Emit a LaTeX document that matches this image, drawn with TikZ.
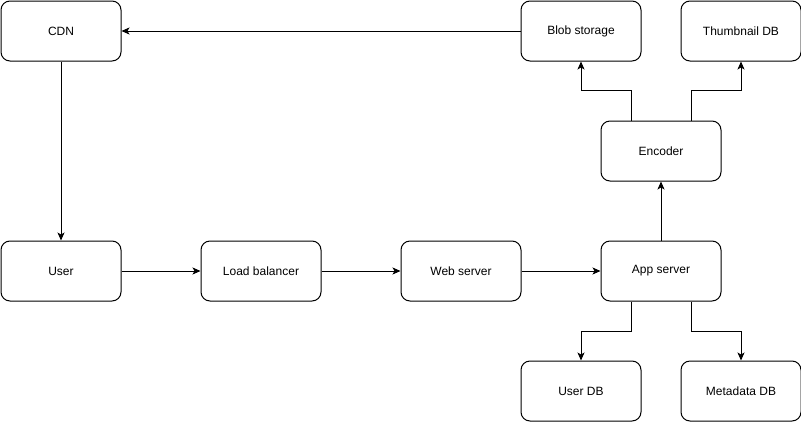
\documentclass[tikz,border=0pt]{standalone}
\usepackage{fontspec}
\setmainfont{Liberation Sans}
\usetikzlibrary{arrows.meta,positioning}
\begin{document}
\begin{tikzpicture}[x=1pt,y=-1pt,
  box/.style={draw, line width=1pt, rounded corners=9pt, minimum width=120pt, minimum height=60pt, inner sep=0pt, font=\fontsize{12pt}{14pt}\selectfont, anchor=north west},
  conn/.style={draw, line width=1pt, -{Stealth[length=8pt,width=7pt,inset=2pt]}}]
\useasboundingbox (0,0) rectangle (801,421);
\node[box] (cdn) at (0.5,0.5) {CDN};
\node[box] (blob) at (520.5,0.5) {Blob storage};
\node[box] (thumb) at (680.5,0.5) {Thumbnail DB};
\node[box] (enc) at (600.5,120.5) {Encoder};
\node[box] (user) at (0.5,240.5) {User};
\node[box] (lb) at (200.5,240.5) {Load balancer};
\node[box] (web) at (400.5,240.5) {Web server};
\node[box] (app) at (600.5,240.5) {App server};
\node[box] (udb) at (520.5,360.5) {User DB};
\node[box] (mdb) at (680.5,360.5) {Metadata DB};
\draw[conn] (blob.west) -- (cdn.east);
\draw[conn] (cdn.south) -- (user.north);
\draw[conn] (user.east) -- (lb.west);
\draw[conn] (lb.east) -- (web.west);
\draw[conn] (web.east) -- (app.west);
\draw[conn] (app.north) -- (enc.south);
\draw[conn] ([xshift=-30pt]enc.north) |- ++(0,-30) -| (blob.south);
\draw[conn] ([xshift=30pt]enc.north) |- ++(0,-30) -| (thumb.south);
\draw[conn] ([xshift=-30pt]app.south) |- ++(0,30) -| (udb.north);
\draw[conn] ([xshift=30pt]app.south) |- ++(0,30) -| (mdb.north);
\end{tikzpicture}
\end{document}
